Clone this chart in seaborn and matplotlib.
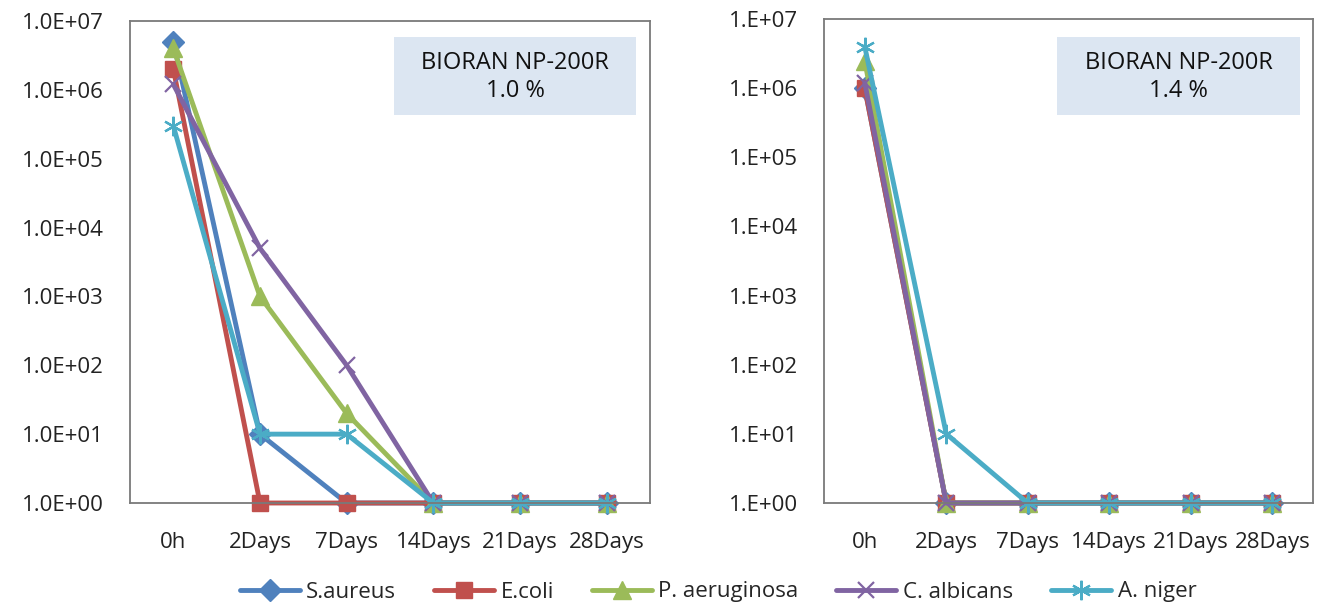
import matplotlib
matplotlib.use("Agg")
import matplotlib.pyplot as plt
import seaborn as sns
import pandas as pd
from matplotlib.patches import Rectangle

# data (CFU/g, log scale)
times = ["0h", "2Days", "7Days", "14Days", "21Days", "28Days"]
organisms = ["S.aureus", "E.coli", "P. aeruginosa", "C. albicans", "A. niger"]

# BIORAN NP-200R 1.0 %
s_aureus_10 = [5.0e6, 10, 1, 1, 1, 1]
e_coli_10 = [2.0e6, 1, 1, 1, 1, 1]
p_aeruginosa_10 = [4.0e6, 1000, 20, 1, 1, 1]
c_albicans_10 = [1.2e6, 5000, 100, 1, 1, 1]
a_niger_10 = [3.0e5, 10, 10, 1, 1, 1]

# BIORAN NP-200R 1.4 %
s_aureus_14 = [1.0e6, 1, 1, 1, 1, 1]
e_coli_14 = [1.0e6, 1, 1, 1, 1, 1]
p_aeruginosa_14 = [2.5e6, 1, 1, 1, 1, 1]
c_albicans_14 = [1.2e6, 1, 1, 1, 1, 1]
a_niger_14 = [4.0e6, 10, 1, 1, 1, 1]

ytick_values = [1, 10, 100, 1e3, 1e4, 1e5, 1e6, 1e7]
yticks_left = ["1.0E+00", "1.0E+01", "1.0E+02", "1.0E+03",
               "1.0E+04", "1.0E+05", "1.0E+06", "1.0E+07"]
yticks_right = ["1.E+00", "1.E+01", "1.E+02", "1.E+03",
                "1.E+04", "1.E+05", "1.E+06", "1.E+07"]

box_titles = ["BIORAN NP-200R\n1.0 %", "BIORAN NP-200R\n1.4 %"]

colors = {"S.aureus": "#4f81bd", "E.coli": "#c0504d", "P. aeruginosa": "#9bbb59",
          "C. albicans": "#8064a2", "A. niger": "#4bacc6"}
markers = {"S.aureus": "D", "E.coli": "s", "P. aeruginosa": "^",
           "C. albicans": "x", "A. niger": (6, 2, 0)}
msizes = {"S.aureus": 11, "E.coli": 12, "P. aeruginosa": 13,
          "C. albicans": 12, "A. niger": 14}


def long_frame(series):
    rows = []
    for name, vals in zip(organisms, series):
        for t, v in zip(times, vals):
            rows.append({"time": t, "cfu": v, "organism": name})
    return pd.DataFrame(rows)


df_10 = long_frame([s_aureus_10, e_coli_10, p_aeruginosa_10, c_albicans_10, a_niger_10])
df_14 = long_frame([s_aureus_14, e_coli_14, p_aeruginosa_14, c_albicans_14, a_niger_14])

sns.set_style("white")
plt.rcParams["font.family"] = ["Open Sans", "DejaVu Sans"]

fig = plt.figure(figsize=(13.26, 6.06), dpi=100)
ax1 = fig.add_axes([130 / 1326, 1 - 503 / 606, 520 / 1326, 482 / 606])
ax2 = fig.add_axes([824 / 1326, 1 - 503 / 606, 489 / 1326, 484 / 606])

box_x = [(394, 636), (1057, 1300)]

for ax, df, ylabels, title, bx in zip([ax1, ax2], [df_10, df_14],
                                      [yticks_left, yticks_right], box_titles, box_x):
    sns.lineplot(data=df, x="time", y="cfu", hue="organism",
                 palette=colors, marker="o", linewidth=3.5,
                 legend=False, sort=False, ax=ax)
    for line, name in zip(ax.lines, organisms):
        line.set_label(name)
        line.set_marker(markers[name])
        line.set_markeredgecolor(colors[name])
        line.set_markerfacecolor(colors[name])
        line.set_markersize(msizes[name])
        line.set_markeredgewidth(1.6 if name in ("C. albicans", "A. niger") else 1.0)
        line.set_clip_on(False)

    ax.set_yscale("log")
    ax.set_ylim(1, 1e7)
    ax.set_xlim(-0.5, 5.5)
    ax.set_yticks(ytick_values, labels=ylabels)
    ax.minorticks_off()
    ax.set_xlabel("")
    ax.set_ylabel("")
    ax.tick_params(axis="y", length=0, pad=19, labelsize=16, colors="#222222")
    ax.tick_params(axis="x", length=0, pad=21, labelsize=16, colors="#222222")
    ax.grid(False)
    for sp in ax.spines.values():
        sp.set_color("#7a7a7a")
        sp.set_linewidth(1.3)

    # annotation box in figure pixels
    x0, x1 = bx
    rect = Rectangle((x0 / 1326, 1 - 115 / 606), (x1 - x0) / 1326, 78 / 606,
                     transform=fig.transFigure, facecolor="#dce6f2",
                     edgecolor="none", zorder=3)
    fig.patches.append(rect)
    fig.text((x0 + x1) / 2 / 1326, 1 - 77 / 606, title, ha="center", va="center",
             multialignment="center", fontsize=17, color="#111111",
             linespacing=1.2, zorder=4)

handles = ax1.lines[:5]
fig.legend(handles=handles, labels=organisms, loc="center",
           bbox_to_anchor=(718 / 1326, 1 - 592 / 606), ncol=5, frameon=False,
           fontsize=16, handlelength=2.7, handletextpad=0.3, columnspacing=1.7,
           borderaxespad=0)

fig.savefig("out.png", dpi=100)
